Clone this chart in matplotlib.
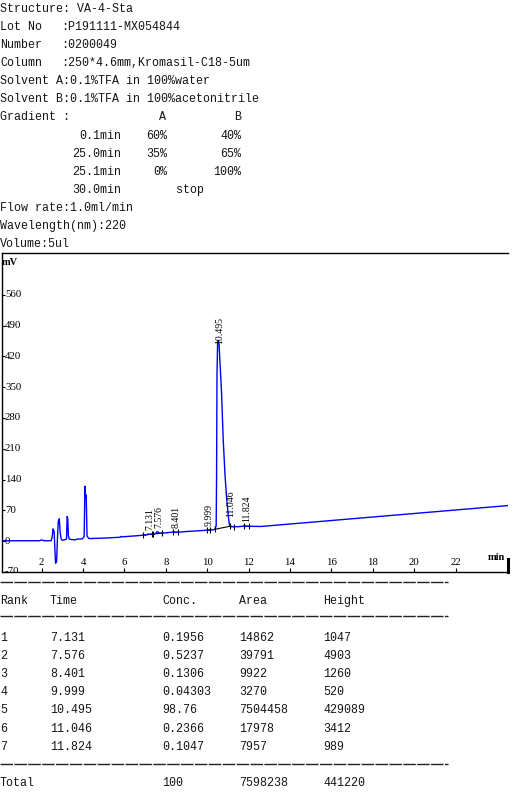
import numpy as np
import matplotlib
matplotlib.use("Agg")
import matplotlib.pyplot as plt
from matplotlib.lines import Line2D
from matplotlib.transforms import blended_transform_factory

W, H = 517, 795

# header block
info_single = ["Structure: VA-4-Sta"]
info_pairs = [("Lot No", ":P191111-MX054844"),
              ("Number", ":0200049"),
              ("Column", ":250*4.6mm,Kromasil-C18-5um")]
solvents = ["Solvent A:0.1%TFA in 100%water",
            "Solvent B:0.1%TFA in 100%acetonitrile"]
grad_time = ["0.1min", "25.0min", "25.1min", "30.0min"]
grad_a = ["60%", "35%", "0%"]
grad_b = ["40%", "65%", "100%"]
tail_lines = ["Flow rate:1.0ml/min", "Wavelength(nm):220", "Volume:5ul"]

# chromatogram trace (min, mV)
trace_t = [0.08, 1.90, 1.95, 2.05, 2.10, 2.45, 2.50, 2.55, 2.60, 2.63, 2.67,
           2.72, 2.76, 2.80, 2.85, 2.89, 2.94, 3.00, 3.10, 3.20, 3.23, 3.26,
           3.29, 3.33, 3.40, 3.60, 3.75, 3.95, 4.05, 4.09, 4.12, 4.15, 4.19,
           4.28, 5.00, 5.80, 5.85, 5.90, 6.50, 7.00, 7.10, 7.13, 7.20, 7.50,
           7.58, 7.70, 8.00, 8.40, 8.50, 9.00, 9.50, 10.00, 10.30, 10.37,
           10.40, 10.43, 10.45, 10.47, 10.50, 10.53, 10.57, 10.61, 10.69,
           10.77, 10.86, 10.94, 11.02, 11.06, 11.10, 11.16, 11.50, 11.82,
           11.90, 12.60, 24.53]
trace_mv = [1, 1, 2.5, 2.5, 1, 1, 8, 28, 22, -10, -50,
            -45, 5, 45, 51, 20, 5, 2, 3, 5, 56, 50,
            12, 5, 4, 3, 5, 5, 10, 125, 100, 105, 12,
            6, 7, 9, 11, 10, 12, 14, 15, 16.5, 15.5, 17,
            22, 18, 19, 21, 20, 22, 23.5, 25, 26, 27,
            33, 34, 150, 380, 452, 456, 448, 410, 338,
            231, 148, 95, 57, 40, 34, 33, 33, 34.5,
            34, 33.5, 81]

# integration windows (start, end) in min
win_start = [6.88, 7.39, 8.33, 9.97, 10.37, 11.10, 11.77]
win_end = [7.31, 7.80, 8.60, 10.13, 11.10, 11.29, 12.01]

# result table
ranks = [1, 2, 3, 4, 5, 6, 7]
ret_time = [7.131, 7.576, 8.401, 9.999, 10.495, 11.046, 11.824]
conc = [0.1956, 0.5237, 0.1306, 0.04303, 98.76, 0.2366, 0.1047]
area = [14862, 39791, 9922, 3270, 7504458, 17978, 7957]
height = [1047, 4903, 1260, 520, 429089, 3412, 989]
total = ["Total", "100", "7598238", "441220"]

x_ticks = [2, 4, 6, 8, 10, 12, 14, 16, 18, 20, 22]
y_ticks = [-70, 0, 70, 140, 210, 280, 350, 420, 490, 560]

mono = "Liberation Mono"
serif = "Liberation Serif"
fs = 8.4
tc = "#151515"

fig = plt.figure(figsize=(W / 100, H / 100), dpi=100)


def ftxt(x, y, s, ha="left", **kw):
    fig.text(x / W, 1 - y / H, s, ha=ha, va="center", family=mono,
             fontsize=fs, color=tc, **kw)


row = 0
pitch = 18.15
y0 = 8.5
for s in info_single:
    ftxt(0, y0 + row * pitch, s); row += 1
for lab, val in info_pairs:
    ftxt(0, y0 + row * pitch, lab)
    ftxt(61, y0 + row * pitch, val)
    row += 1
for s in solvents:
    ftxt(0, y0 + row * pitch, s); row += 1
ftxt(0, y0 + row * pitch, "Gradient :")
ftxt(166, y0 + row * pitch, "A", ha="right")
ftxt(241, y0 + row * pitch, "B", ha="right")
row += 1
for i, gt in enumerate(grad_time):
    yy = y0 + row * pitch
    ftxt(121, yy, gt, ha="right")
    if i < len(grad_a):
        ftxt(167, yy, grad_a[i], ha="right")
        ftxt(241, yy, grad_b[i], ha="right")
    else:
        ftxt(190, yy, "stop", ha="center")
    row += 1
for s in tail_lines:
    ftxt(0, y0 + row * pitch, s); row += 1

# chart
ax_l, ax_r, ax_t, ax_b = 2, 508, 253, 572
ax = fig.add_axes([ax_l / W, 1 - ax_b / H, (ax_r - ax_l) / W, (ax_b - ax_t) / H])
ax.set_xlim(0.082, 24.53)
ax.set_ylim(-68.8, 655)

for s, e in zip(win_start, win_end):
    ax.plot([s, e], np.interp([s, e], trace_t, trace_mv), color="k", lw=0.8)
ax.plot(trace_t, trace_mv, color="#0000ff", lw=1.0)
marks = sorted(set(win_start + win_end))
ax.plot(marks, np.interp(marks, trace_t, trace_mv), "|", color="k",
        ms=4.5, mew=0.8)

for t in ret_time:
    apex = np.interp(t, trace_t, trace_mv)
    ax.annotate(f"{t:.3f}", (t, apex), xytext=(2, 4), textcoords="offset pixels",
                rotation=90, ha="center", va="bottom", family=serif,
                fontsize=7, color="k")

for sp in ["top", "left", "bottom"]:
    ax.spines[sp].set_linewidth(1.0)
    ax.spines[sp].set_color("k")
ax.spines["right"].set_visible(False)
ax.add_line(Line2D([1, 1], [0, 13 / 319], transform=ax.transAxes, color="k",
                   lw=2.2, clip_on=False))

ax.set_xticks(x_ticks)
ax.set_yticks(y_ticks)
ax.tick_params(axis="x", direction="in", length=3, width=0.8, labelbottom=False)
ax.tick_params(axis="y", direction="in", length=1.8, width=0.8, labelleft=False)

bx = blended_transform_factory(ax.transData, ax.transAxes)
by = blended_transform_factory(ax.transAxes, ax.transData)
for t in x_ticks:
    ax.text(t, 0.031, str(t), transform=bx, ha="center", va="center",
            family=serif, fontsize=7.8, color="k")
for v in y_ticks:
    ax.text(0.006, v, str(v), transform=by, ha="left", va="center",
            family=serif, fontsize=7.8, color="k", clip_on=True)
ax.text(0.0, 0.97, "mV", transform=ax.transAxes, ha="left", va="center",
        family=serif, fontsize=7.5, color="k", fontweight="bold")
ax.text(0.994, 0.045, "min", transform=ax.transAxes, ha="right", va="center",
        family=serif, fontsize=7.5, color="k", fontweight="bold")

# table
cols = [0, 50, 162, 239, 323]
for yy in [582, 616, 764]:
    fig.add_artist(Line2D([0, 448 / W], [1 - yy / H] * 2, color="#222222",
                          lw=1.0, linestyle=(0, (9, 1))))
for x, h in zip(cols, ["Rank", "Time", "Conc.", "Area", "Height"]):
    ftxt(x, 601, h)
for i in range(len(ranks)):
    yy = 638 + i * 18.1
    vals = [str(ranks[i]), f"{ret_time[i]:.3f}", str(conc[i]), str(area[i]),
            str(height[i])]
    for x, v in zip(cols, vals):
        ftxt(x, yy, v)
for x, v in zip([0, 162, 239, 323], total):
    ftxt(x, 783, v)

fig.savefig("out.png", dpi=100)
